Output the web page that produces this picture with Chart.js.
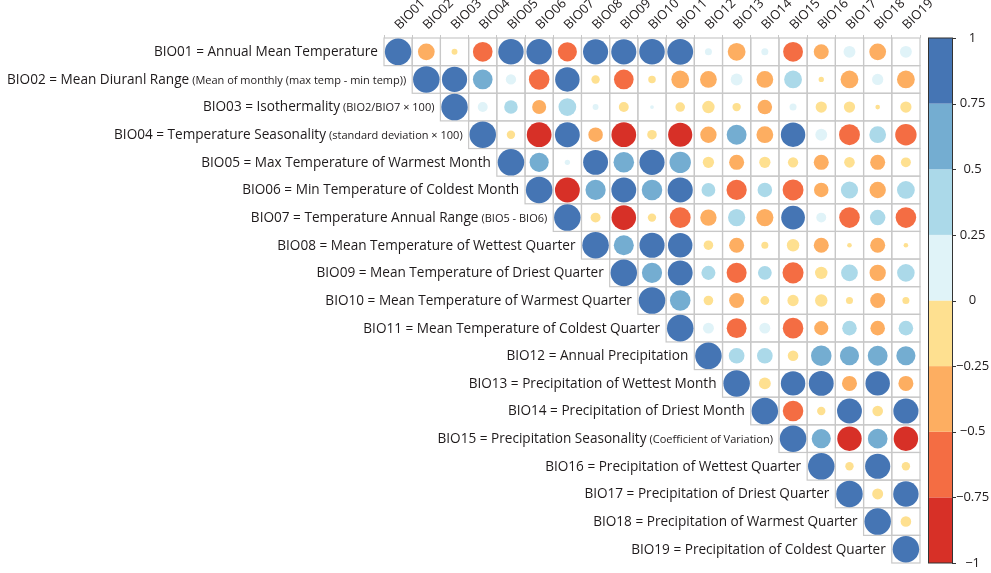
<!DOCTYPE html>
<html><head><meta charset="utf-8">
<script src="https://cdn.jsdelivr.net/npm/chart.js@4.4.1/dist/chart.umd.min.js"></script>
<style>html,body{margin:0;padding:0;background:#fff;} #wrap{width:991px;height:573px;}</style>
</head><body><div id="wrap"><canvas id="c" width="991" height="573"></canvas></div>
<script>
const categories = ['BIO01','BIO02','BIO03','BIO04','BIO05','BIO06','BIO07','BIO08','BIO09','BIO10','BIO11','BIO12','BIO13','BIO14','BIO15','BIO16','BIO17','BIO18','BIO19'];
const rowNames = [
  'BIO01 = Annual Mean Temperature',
  'BIO02 = Mean Diuranl Range',
  'BIO03 = Isothermality',
  'BIO04 = Temperature Seasonality',
  'BIO05 = Max Temperature of Warmest Month',
  'BIO06 = Min Temperature of Coldest Month',
  'BIO07 = Temperature Annual Range',
  'BIO08 = Mean Temperature of Wettest Quarter',
  'BIO09 = Mean Temperature of Driest Quarter',
  'BIO10 = Mean Temperature of Warmest Quarter',
  'BIO11 = Mean Temperature of Coldest Quarter',
  'BIO12 = Annual Precipitation',
  'BIO13 = Precipitation of Wettest Month',
  'BIO14 = Precipitation of Driest Month',
  'BIO15 = Precipitation Seasonality',
  'BIO16 = Precipitation of Wettest Quarter',
  'BIO17 = Precipitation of Driest Quarter',
  'BIO18 = Precipitation of Warmest Quarter',
  'BIO19 = Precipitation of Coldest Quarter'
];
const rowNotes = ['', '(Mean of monthly (max temp - min temp))', '(BIO2/BIO7 \u00d7 100)', '(standard deviation \u00d7 100)', '', '', '(BIO5 - BIO6)', '', '', '', '', '', '', '', '(Coefficient of Variation)', '', '', '', ''];

// upper-triangle correlations, each row starts at the diagonal
const r01 = [1, -0.4, -0.05, -0.55, 0.92, 0.92, -0.52, 0.9, 0.9, 0.93, 0.95, 0.07, -0.45, 0.07, -0.56, -0.32, 0.2, -0.4, 0.2];
const r02 = [1, 0.9, 0.55, 0.15, -0.6, 0.85, -0.1, -0.55, -0.08, -0.45, -0.4, 0.2, -0.4, 0.45, -0.04, -0.45, 0.18, -0.45];
const r03 = [1, 0.14, 0.26, -0.28, 0.45, 0.05, -0.14, 0.02, -0.13, -0.22, -0.1, -0.3, 0.07, -0.18, -0.18, -0.03, -0.18];
const r04 = [1, -0.1, -0.87, 0.88, -0.3, -0.87, -0.13, -0.83, -0.38, 0.56, -0.4, 0.85, 0.2, -0.62, 0.4, -0.65];
const r05 = [1, 0.52, 0.04, 0.88, 0.6, 0.9, 0.65, -0.18, -0.32, -0.18, -0.15, -0.32, -0.16, -0.32, -0.14];
const r06 = [1, -0.88, 0.58, 0.88, 0.6, 0.9, 0.27, -0.58, 0.3, -0.62, -0.3, 0.42, -0.38, 0.45];
const r07 = [1, -0.14, -0.86, -0.1, -0.62, -0.38, 0.42, -0.42, 0.8, 0.14, -0.6, 0.34, -0.6];
const r08 = [1, 0.57, 0.9, 0.85, -0.13, -0.32, -0.07, -0.22, -0.32, -0.03, -0.32, -0.03];
const r09 = [1, 0.58, 0.88, 0.28, -0.57, 0.27, -0.63, -0.22, 0.4, -0.38, 0.44];
const r10 = [1, 0.6, -0.13, -0.32, -0.11, -0.18, -0.22, -0.07, -0.32, -0.07];
const r11 = [1, 0.17, -0.56, 0.17, -0.6, -0.28, 0.3, -0.3, 0.3];
const r12 = [1, 0.35, 0.35, -0.16, 0.6, 0.52, 0.56, 0.52];
const r13 = [1, -0.2, 0.85, 0.88, -0.32, 0.85, -0.32];
const r14 = [1, -0.6, -0.1, 0.88, -0.16, 0.9];
const r15 = [1, 0.52, -0.85, 0.55, -0.85];
const r16 = [1, -0.1, 0.9, -0.1];
const r17 = [1, -0.17, 0.92];
const r18 = [1, -0.16];
const r19 = [1];
const corrRows = [r01,r02,r03,r04,r05,r06,r07,r08,r09,r10,r11,r12,r13,r14,r15,r16,r17,r18,r19];

const colorTicks = [-1, -0.75, -0.5, -0.25, 0, 0.25, 0.5, 0.75, 1];
const binColors = ['#d73027','#f46d43','#fdae61','#fee090','#e0f3f8','#abd9e9','#74add1','#4575b4'];

function binIndex(v){ let k = Math.floor((v + 1) / 0.25); if (k > 7) k = 7; if (k < 0) k = 0; return k; }

const points = [];
corrRows.forEach((row, i) => row.forEach((v, k) => points.push({x: categories[i + k], y: categories[i], v: v})));

const FONT = "'Open Sans', 'Noto Sans', sans-serif";
const TEXT = '#1e1a1b';

function cellGeom(chart){
  const xs = chart.scales.x, ys = chart.scales.y, n = categories.length;
  return {cw: (xs.right - xs.left) / n, ch: (ys.bottom - ys.top) / n};
}

const corrPlugin = {
  id: 'corrPlugin',
  beforeDatasetsDraw(chart){
    const ctx = chart.ctx, xs = chart.scales.x, ys = chart.scales.y, g = cellGeom(chart);
    ctx.save();
    ctx.strokeStyle = '#c8c8c8';
    ctx.lineWidth = 1.2;
    for (let i = 0; i < categories.length; i++) {
      for (let j = i; j < categories.length; j++) {
        const cx = xs.getPixelForValue(j), cy = ys.getPixelForValue(i);
        ctx.strokeRect(cx - g.cw / 2, cy - g.ch / 2, g.cw, g.ch);
      }
    }
    ctx.restore();
  },
  afterDraw(chart){
    const ctx = chart.ctx, xs = chart.scales.x, ys = chart.scales.y, g = cellGeom(chart);
    ctx.save();
    ctx.fillStyle = TEXT;
    ctx.textBaseline = 'middle';
    ctx.textAlign = 'right';
    for (let i = 0; i < categories.length; i++) {
      const y = ys.getPixelForValue(i) + 0.5;
      let xr = xs.getPixelForValue(i) - g.cw / 2 - 6;
      if (rowNotes[i]) {
        ctx.font = '11px ' + FONT;
        ctx.fillText(rowNotes[i], xr, y + 0.5);
        xr -= ctx.measureText(rowNotes[i]).width + 3;
      }
      ctx.font = '13.6px ' + FONT;
      ctx.fillText(rowNames[i], xr, y);
    }
    // colour bar
    const yc = chart.scales.yc;
    const bx = yc.left + 8, bw = 24;
    for (let k = 0; k < binColors.length; k++) {
      const yTop = yc.getPixelForValue(colorTicks[k + 1]);
      const yBot = yc.getPixelForValue(colorTicks[k]);
      ctx.fillStyle = binColors[k];
      ctx.fillRect(bx, yTop, bw, yBot - yTop);
    }
    ctx.strokeStyle = '#333';
    ctx.lineWidth = 1;
    const top = yc.getPixelForValue(1), bot = yc.getPixelForValue(-1);
    ctx.strokeRect(bx + 0.5, top, bw, bot - top);
    ctx.beginPath();
    colorTicks.forEach(t => { const py = Math.round(yc.getPixelForValue(t)) + 0.5; ctx.moveTo(bx + bw, py); ctx.lineTo(bx + bw + 4, py); });
    ctx.stroke();
    ctx.restore();
  }
};

new Chart(document.getElementById('c'), {
  type: 'scatter',
  data: {
    datasets: [{
      data: points,
      pointRadius: (c) => { const g = cellGeom(c.chart); const v = c.raw ? c.raw.v : 0; return Math.sqrt(Math.abs(v)) * Math.min(g.cw, g.ch) / 2 * 0.96; },
      pointHoverRadius: (c) => { const g = cellGeom(c.chart); const v = c.raw ? c.raw.v : 0; return Math.sqrt(Math.abs(v)) * Math.min(g.cw, g.ch) / 2 * 0.96; },
      backgroundColor: (c) => binColors[binIndex(c.raw ? c.raw.v : 0)],
      borderWidth: 0,
      pointBorderWidth: 0
    }]
  },
  options: {
    responsive: false,
    animation: false,
    devicePixelRatio: 1,
    layout: {padding: {left: 384, right: 0, top: 0, bottom: 10}},
    plugins: {legend: {display: false}, tooltip: {enabled: false}},
    events: [],
    scales: {
      x: {
        type: 'category', labels: categories, position: 'top', offset: true,
        grid: {display: true, drawOnChartArea: false, drawTicks: true, tickLength: 3, color: '#c8c8c8', offset: true},
        border: {display: false},
        ticks: {autoSkip: false, minRotation: 45, maxRotation: 45, padding: 2, labelOffset: 10, color: TEXT, font: {family: FONT, size: 13}},
        afterFit: (s) => { s.height = 38; }
      },
      y: {
        type: 'category', labels: categories, offset: true, display: false
      },
      yc: {
        type: 'linear', position: 'right', min: -1, max: 1,
        grid: {display: false, drawTicks: true, tickLength: 34},
        border: {display: false},
        ticks: {stepSize: 0.25, crossAlign: 'center', padding: 2, color: TEXT, font: {family: FONT, size: 13},
          callback: (v) => { const r = Math.round(v * 100) / 100; return (r < 0 ? '\u2212' : '') + String(Math.abs(r)); }},
        afterFit: (s) => { s.width = 71; }
      }
    }
  },
  plugins: [corrPlugin]
});
</script>
</body></html>
